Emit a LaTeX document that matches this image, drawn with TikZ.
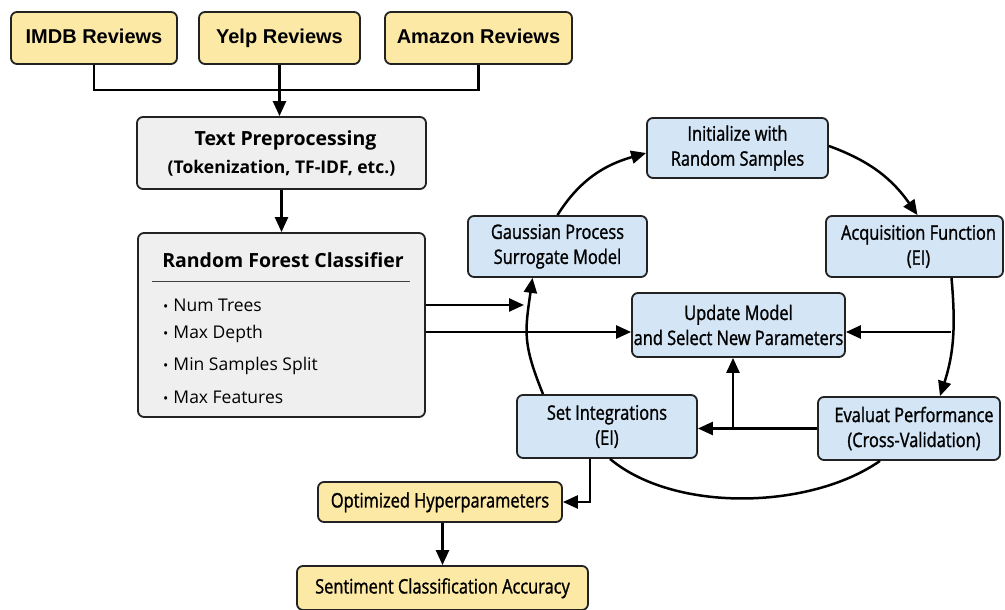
\documentclass[tikz,border=0pt]{standalone}
\usepackage{fontspec}
\setmainfont{Open Sans}
\newfontfamily\arialf{Liberation Sans}
\newfontfamily\condf{Open Sans}[FakeStretch=0.82,FakeBold=1.2]
\usetikzlibrary{arrows.meta,calc}
\definecolor{yfill}{RGB}{252,233,166}
\definecolor{bfill}{RGB}{212,229,245}
\definecolor{gfill}{RGB}{239,239,239}
\definecolor{bordc}{RGB}{34,34,34}
\newcommand\mybul{{\fontsize{14}{14}\selectfont •}\hspace{5pt}}
\tikzset{
  box/.style={draw=bordc, line width=1.8pt, rounded corners=6pt, inner sep=0pt, align=center},
  ybox/.style={box, fill=yfill},
  topbox/.style={ybox, font=\arialf\bfseries\fontsize{20}{24}\selectfont, minimum height=52pt, text height=15pt, text depth=4pt},
  lowbox/.style={ybox, font=\condf\fontsize{20}{24}\selectfont, text height=15pt, text depth=4pt},
  bbox/.style={box, fill=bfill, font=\condf\fontsize{20}{25}\selectfont},
  gbox/.style={box, fill=gfill},
  conn/.style={line width=2.5pt, draw=black},
  arr/.style={conn, -{Triangle[length=15pt,width=13pt]}},
  bul/.style={anchor=west, inner sep=0pt, font=\fontsize{17.5}{20}\selectfont}
}
\begin{document}
\begin{tikzpicture}[x=1pt,y=1pt]
\useasboundingbox[fill=white] (0,0) rectangle (1005,610);
% sources
\node[topbox, minimum width=166pt] (imdb) at (94,572) {IMDB Reviews};
\node[topbox, minimum width=161pt] (yelp) at (279.5,572) {Yelp Reviews};
\node[topbox, minimum width=187pt] (amazon) at (478.5,572) {Amazon Reviews};
% preprocessing
\node[gbox, minimum width=289pt, minimum height=72pt, font=\bfseries\fontsize{19.5}{28}\selectfont] (tp) at (281.5,457) {\hspace*{8pt}Text Preprocessing\\{\fontsize{17.5}{20}\selectfont(Tokenization, TF-IDF, etc.)}};
% random forest
\node[gbox, minimum width=287pt, minimum height=184pt] (rf) at (281.5,285) {};
\node[inner sep=0pt, font=\bfseries\fontsize{19.5}{22}\selectfont] (rft) at (283,350) {Random Forest Classifier};
\draw[line width=1pt, draw=black!75] (152,328) -- (410,328);
\node[bul] (b1) at (163,305) {\mybul Num Trees};
\node[bul] (b2) at (163,276) {\mybul Max Depth};
\node[bul] (b3) at (163,244) {\mybul Min Samples Split};
\node[bul] (b4) at (163,213) {\mybul Max Features};
% optimisation loop
\node[bbox, minimum width=179pt, minimum height=61pt] (gp) at (557.5,363.5) {Gaussian Process\\Surrogate Model};
\node[bbox, minimum width=181pt, minimum height=60pt] (init) at (737.5,462) {Initialize with\\Random Samples};
\node[bbox, minimum width=177pt, minimum height=61pt] (acq) at (914.5,363.5) {\hspace*{8pt}Acquisition Function\\\hspace*{8pt}(EI)};
\node[bbox, minimum width=213pt, minimum height=64pt] (upd) at (738.5,285) {Update Model\\and Select New Parameters};
\node[bbox, minimum width=180pt, minimum height=63pt] (seti) at (607,183.5) {Set Integrations\\(EI)};
\node[bbox, minimum width=182pt, minimum height=63pt] (eval) at (909,181.5) {\hspace*{10pt}Evaluat Performance\\\hspace*{10pt}(Cross-Validation)};
% outputs
\node[lowbox, minimum width=244pt, minimum height=40pt] (opt) at (440,108) {Optimized Hyperparameters};
\node[lowbox, minimum width=291pt, minimum height=44pt] (sent) at (442.5,22) {Sentiment Classification Accuracy};
% connectors top
\coordinate (j) at (280,520);
\draw[conn] (imdb.south) -- (imdb.south |- j) -- (amazon.south |- j) -- (amazon.south);
\draw[arr] (yelp.south) -- (yelp.south |- tp.north);
\draw[arr] (tp.south) -- (rf.north);
% rf to loop
\coordinate (c1) at (524,305);
\draw[arr] (rf.east |- c1) -- (c1);
\coordinate (r2) at (430,278);
\draw[arr] (rf.east |- r2) -- (upd.west |- r2);
% loop arcs
\draw[arr] (gp.north) to[out=58,in=196] ([yshift=-5]init.west);
\draw[arr] ([yshift=2]init.east) to[out=-20,in=125] ([xshift=3]acq.north);
\draw[arr] ([xshift=37]acq.south) to[out=-85,in=72] ([xshift=31]eval.north);
\draw[arr] ([xshift=-64]seti.north) to[out=112,in=-98,looseness=1.2] ([xshift=-25]gp.south);
\draw[conn] ([xshift=3]seti.south) to[out=-40,in=215,looseness=0.8] ([xshift=-29]eval.south);
% inner arrows
\coordinate (c2) at (951,278);
\draw[arr] (c2) -- (upd.east |- c2);
\draw[arr] (eval.west) -- (eval.west -| seti.east);
\coordinate (v) at (733,181.5);
\draw[arr] (v) -- (v |- upd.south);
% outputs
\draw[arr] ([xshift=-17]seti.south) |- (opt.east);
\draw[arr] (opt.south -| sent.north) -- (sent.north);
\end{tikzpicture}
\end{document}
